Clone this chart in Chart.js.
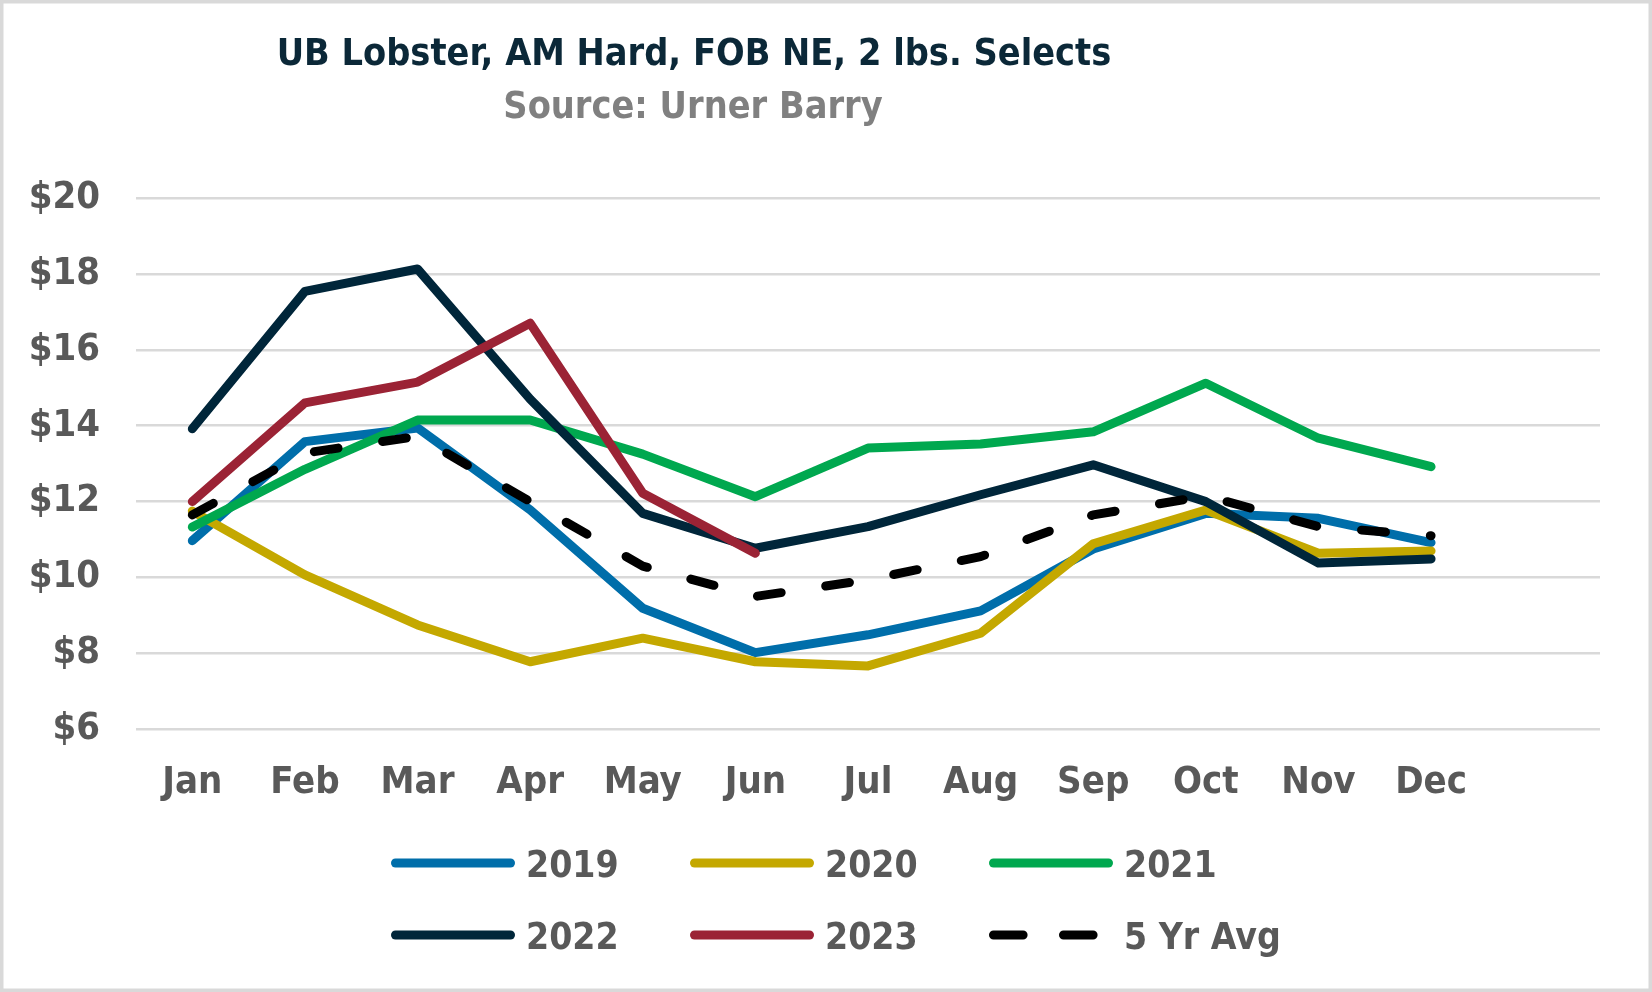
<!DOCTYPE html>
<html>
<head>
<meta charset="utf-8">
<script src="https://cdn.jsdelivr.net/npm/chart.js@4.4.0/dist/chart.umd.min.js"></script>
<style>
  html, body { margin: 0; padding: 0; background: #fff; }
  canvas { display: block; }
</style>
</head>
<body>
<canvas id="chart" width="1652" height="992"></canvas>
<script>
// Fuente parecida a la del original (bold condensada)
const FONT = "'DejaVu Sans Condensed', 'DejaVu Sans', sans-serif"

// Datos
const months = ['Jan', 'Feb', 'Mar', 'Apr', 'May', 'Jun', 'Jul', 'Aug', 'Sep', 'Oct', 'Nov', 'Dec', '']
const yTickValues = [6, 8, 10, 12, 14, 16, 18, 20]
const seriesNames = ['2019', '2020', '2021', '2022', '2023', '5 Yr Avg']

const y2019 = [10.97, 13.58, 13.94, 11.78, 9.19, 8.02, 8.49, 9.12, 10.75, 11.69, 11.56, 10.92]
const y2020 = [11.75, 10.07, 8.75, 7.78, 8.40, 7.78, 7.67, 8.53, 10.89, 11.78, 10.64, 10.70]
const y2021 = [11.33, 12.85, 14.15, 14.15, 13.25, 12.13, 13.41, 13.52, 13.84, 15.12, 13.67, 12.92]
const y2022 = [13.92, 17.54, 18.13, 14.70, 11.69, 10.77, 11.34, 12.18, 12.97, 12.00, 10.38, 10.49]
const y2023 = [12.00, 14.60, 15.15, 16.70, 12.22, 10.64]
const yAvg = [11.65, 13.28, 13.72, 12.00, 10.30, 9.50, 9.94, 10.55, 11.65, 12.15, 11.34, 11.10]

const colors = ['#006EAA', '#C4A800', '#00A84F', '#00263A', '#9B2335', '#000000']

function serie(i, data, dashed) {
    return {
        label: seriesNames[i],
        data,
        borderColor: colors[i],
        backgroundColor: colors[i],
        borderWidth: 9,
        borderCapStyle: 'round',
        borderJoinStyle: 'round',
        borderDash: dashed ? [24, 45] : [],
        pointRadius: 0,
        tension: 0,
        fill: false,
        // las series posteriores se dibujan encima (como en Excel)
        order: 6 - i
    }
}

// Plugin: borde, títulos y leyenda
const decoraciones = {
    id: 'decoraciones',
    beforeDraw(chart) {
        const ctx = chart.ctx
        ctx.save()
        ctx.fillStyle = '#fff'
        ctx.fillRect(0, 0, chart.width, chart.height)
        ctx.restore()
    },
    afterDraw(chart) {
        const ctx = chart.ctx
        ctx.save()
        ctx.strokeStyle = '#d9d9d9'
        ctx.lineWidth = 3.5
        ctx.strokeRect(1.75, 1.75, chart.width - 3.5, chart.height - 3.5)

        ctx.textAlign = 'center'
        ctx.textBaseline = 'alphabetic'
        ctx.font = 'bold 37.5px ' + FONT
        ctx.fillStyle = '#0B2838'
        ctx.fillText('UB Lobster, AM Hard, FOB NE, 2 lbs. Selects', 694, 65)
        ctx.fillStyle = '#808080'
        ctx.fillText('Source: Urner Barry', 693, 118)

        // leyenda en 2 filas x 3 columnas
        const cols = [391, 690, 989]
        const rows = [863, 935]
        ctx.textAlign = 'left'
        ctx.textBaseline = 'alphabetic'
        ctx.font = 'bold 37px ' + FONT
        chart.data.datasets.forEach((ds, i) => {
            const x = cols[i % 3]
            const y = rows[Math.floor(i / 3)]
            ctx.strokeStyle = ds.borderColor
            ctx.lineWidth = 9
            ctx.lineCap = 'round'
            ctx.setLineDash(ds.borderDash.length ? [29.6, 40.4] : [])
            ctx.beginPath()
            ctx.moveTo(x + 4.5, y)
            ctx.lineTo(x + 119.5, y)
            ctx.stroke()
            ctx.setLineDash([])
            ctx.fillStyle = '#595959'
            ctx.fillText(ds.label, x + 135, y + 13.5)
        })
        ctx.restore()
    }
}

new Chart(document.getElementById('chart'), {
    type: 'line',
    data: {
        labels: months,
        datasets: [
            serie(0, y2019), serie(1, y2020), serie(2, y2021),
            serie(3, y2022), serie(4, y2023), serie(5, yAvg, true)
        ]
    },
    options: {
        responsive: false,
        animation: false,
        layout: { padding: { left: 0, right: 52, top: 198, bottom: 162.7 } },
        plugins: { legend: { display: false }, tooltip: { enabled: false } },
        scales: {
            x: {
                offset: true,
                grid: { display: false, drawTicks: false },
                border: { display: false },
                ticks: { color: '#595959', padding: 31, maxRotation: 0, autoSkip: false, font: { family: FONT, size: 38, weight: 'bold' } },
                afterFit: s => { s.height = 100 }
            },
            y: {
                min: 6,
                max: 20,
                afterBuildTicks: s => { s.ticks = yTickValues.map(v => ({ value: v })) },
                grid: { color: '#d9d9d9', lineWidth: 2.5, drawTicks: false },
                border: { display: false },
                ticks: { color: '#595959', padding: 36, callback: v => '$' + v, font: { family: FONT, size: 38, weight: 'bold' } },
                afterFit: s => { s.width = 136 }
            }
        }
    },
    plugins: [decoraciones]
})
</script>
</body>
</html>
